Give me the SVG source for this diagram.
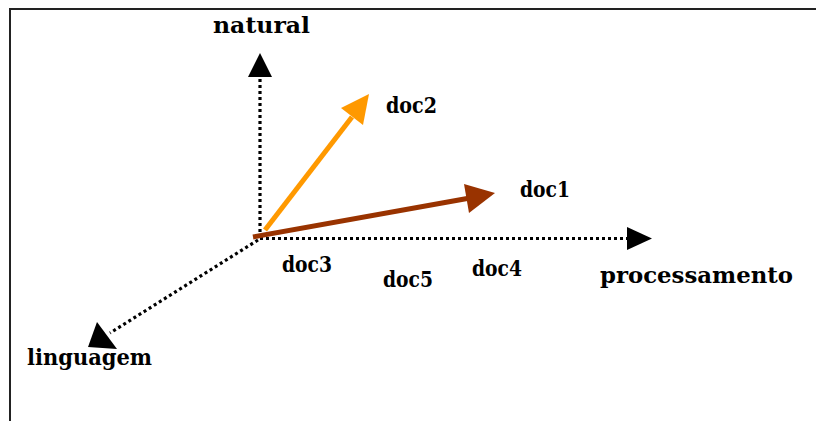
<svg xmlns="http://www.w3.org/2000/svg" width="816" height="421" viewBox="0 0 816 421">
  <style>
    .lbl { font-family: "DejaVu Serif", "Liberation Serif", serif; font-weight: bold; font-size: 23px; fill: #000; }
    .axis { stroke: #000; stroke-width: 3.2; stroke-dasharray: 3 3; fill: none; }
    .head { fill: #000; }
    .vec { stroke-width: 5; fill: none; }
  </style>
  <rect width="816" height="421" fill="#fff"/>
  <!-- frame -->
  <path d="M10,421 V9 H816" fill="none" stroke="#222" stroke-width="2"/>

  <g id="connectors">
    <!-- dotted axes -->
    <g id="axis-natural">
      <line class="axis" x1="260" y1="238" x2="260" y2="77"/>
      <polygon class="head" points="260,53 248,77 272,77"/>
    </g>
    <g id="axis-processamento">
      <line class="axis" x1="260" y1="238.5" x2="628" y2="238.5"/>
      <polygon class="head" points="652,238.5 627,227 627,250"/>
    </g>
    <g id="axis-linguagem">
      <line class="axis" x1="258" y1="240" x2="110" y2="333"/>
      <polygon class="head" points="97,322 88,347 117,349"/>
    </g>
    <!-- document vectors -->
    <g id="vec-doc2">
      <line class="vec" stroke="#FF9900" x1="265" y1="230" x2="352" y2="117"/>
      <polygon fill="#FF9900" points="369,94 341,108 363,125"/>
    </g>
    <g id="vec-doc1">
      <line class="vec" stroke="#993300" x1="253" y1="237" x2="470" y2="198"/>
      <polygon fill="#993300" points="495,193 464,184 469,213"/>
    </g>
  </g>

  <g id="node-natural"><text class="lbl" x="213" y="33" textLength="97" lengthAdjust="spacingAndGlyphs">natural</text></g>
  <g id="node-processamento"><text class="lbl" x="600" y="283" textLength="193" lengthAdjust="spacingAndGlyphs">processamento</text></g>
  <g id="node-linguagem"><text class="lbl" x="27" y="365" textLength="125" lengthAdjust="spacingAndGlyphs">linguagem</text></g>
  <g id="node-doc1"><text class="lbl" x="520" y="197" textLength="50" lengthAdjust="spacingAndGlyphs">doc1</text></g>
  <g id="node-doc2"><text class="lbl" x="386" y="113" textLength="51" lengthAdjust="spacingAndGlyphs">doc2</text></g>
  <g id="node-doc3"><text class="lbl" x="282" y="272" textLength="50" lengthAdjust="spacingAndGlyphs">doc3</text></g>
  <g id="node-doc4"><text class="lbl" x="472" y="276" textLength="50" lengthAdjust="spacingAndGlyphs">doc4</text></g>
  <g id="node-doc5"><text class="lbl" x="383" y="287" textLength="50" lengthAdjust="spacingAndGlyphs">doc5</text></g>
</svg>
